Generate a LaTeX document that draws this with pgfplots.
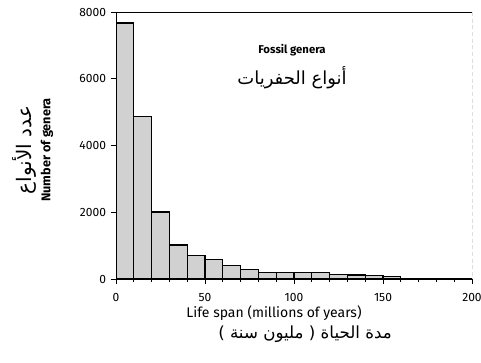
\documentclass[border=0pt]{standalone}
\usepackage{pgfplots}
\pgfplotsset{compat=1.18}
\usepackage{fontspec}
\setmainfont{Fira Sans}
\newfontfamily\arabicfont[Script=Arabic]{DejaVu Sans}
\TeXXeTstate=1
\begin{document}
\begin{tikzpicture}
\path[use as bounding box] (-87pt,-62.25pt) rectangle (273.75pt,209.25pt);
\begin{axis}[
  scale only axis, width=267pt, height=200.25pt,
  at={(0pt,0pt)}, anchor=south west,
  xmin=0, xmax=200, ymin=0, ymax=8000,
  axis line style={draw=none},
  xtick={0,50,100,150,200}, minor xtick={10,20,...,190},
  ytick={0,2000,4000,6000,8000},
  tick align=outside, xtick pos=bottom, ytick pos=left,
  major tick length=4pt, minor tick length=2.5pt,
  tick style={black, line width=0.6pt},
  /pgf/number format/assume math mode=true,
  /pgf/number format/1000 sep={},
  scaled y ticks=false,
  tick label style={font=\fontsize{9}{10}\selectfont},
  xticklabel style={yshift=-3pt},
]
\addplot[ybar interval, fill=black!18, draw=black, line width=0.9pt] coordinates {
(0,7670) (10,4860) (20,2010) (30,1020) (40,710) (50,575) (60,400) (70,280)
(80,200) (90,205) (100,190) (110,190) (120,140) (130,120) (140,100) (150,70)
(160,15) (170,10) (180,10) (190,15) (200,15)};
\draw[line width=0.9pt] (rel axis cs:0,0) -- (rel axis cs:0,1) -- (rel axis cs:1,1);
\draw[line width=0.9pt] (rel axis cs:0,0) -- (rel axis cs:1,0);
\draw[line width=0.6pt, densely dashed] (rel axis cs:1,1) -- (rel axis cs:1,0);
\end{axis}
\node[font=\fontsize{8.5}{10}\selectfont\bfseries] at (132pt,171.75pt) {Fossil genera};
\node[font=\arabicfont\fontsize{13.5}{15}\selectfont] at (132pt,150.75pt) {\beginR أنواع الحفريات\endR};
\node[font=\fontsize{9.5}{11}\selectfont\bfseries, rotate=90] at (-51.75pt,96.75pt) {Number of genera};
\node[font=\arabicfont\fontsize{15}{17}\selectfont, rotate=90] at (-69pt,96.75pt) {\beginR عدد الأنواع\endR};
\node[font=\fontsize{10.5}{12}\selectfont] at (118.5pt,-25.5pt) {Life span (millions of years)};
\node[font=\arabicfont\fontsize{12.5}{14}\selectfont] at (141.75pt,-41.5pt) {\beginR مدة الحياة ( مليون سنة )\endR};
\end{tikzpicture}
\end{document}
